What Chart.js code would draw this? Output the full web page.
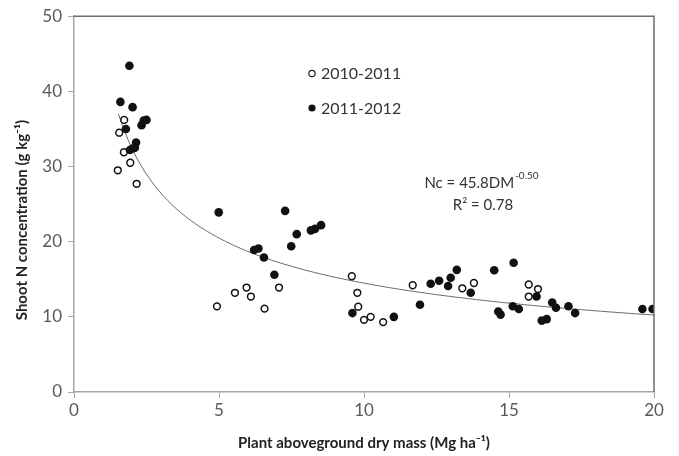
<!DOCTYPE html>
<html>
<head>
<meta charset="utf-8">
<script src="https://cdn.jsdelivr.net/npm/chart.js@4"></script>
<style>
  html, body { margin: 0; padding: 0; background: #fff; }
  #wrap { width: 679px; height: 456px; position: relative; }
</style>
</head>
<body>
<div id="wrap"><canvas id="nChart"></canvas></div>
<script>
// 2010-2011 season (open circles)
const dm2010 = [1.73, 1.56, 1.72, 1.94, 1.51, 2.16, 4.93, 5.55, 5.95, 6.1, 6.57, 7.07,
                9.58, 9.77, 9.8, 10.0, 10.23, 10.66, 11.68, 13.39, 13.79, 15.68, 15.68, 16.0];
const n2010  = [36.2, 34.5, 31.9, 30.5, 29.5, 27.7, 11.4, 13.2, 13.9, 12.7, 11.1, 13.9,
                15.4, 13.2, 11.35, 9.6, 10.0, 9.3, 14.2, 13.8, 14.5, 14.3, 12.7, 13.7];

// 2011-2012 season (filled circles)
const dm2011 = [1.91, 1.60, 2.02, 2.4, 2.5, 2.33, 1.79, 2.14, 2.02, 1.93, 2.1,
                4.99, 7.28, 7.68, 8.17, 8.31, 8.52, 7.49, 6.21, 6.36, 6.55, 6.91, 9.6,
                11.03, 11.93, 12.3, 12.59, 12.99, 12.9, 13.2, 13.68, 14.49, 14.63, 14.71,
                15.16, 15.13, 15.34, 15.95, 16.13, 16.3, 16.49, 16.62, 17.05, 17.28, 19.6, 19.95];
const n2011  = [43.4, 38.6, 37.9, 36.1, 36.2, 35.5, 35.0, 33.2, 32.4, 32.2, 32.5,
                23.9, 24.1, 21.0, 21.5, 21.7, 22.2, 19.4, 18.9, 19.1, 17.9, 15.6, 10.5,
                10.0, 11.6, 14.4, 14.8, 15.2, 14.1, 16.25, 13.2, 16.2, 10.7, 10.3,
                17.2, 11.4, 11.05, 12.7, 9.5, 9.7, 11.9, 11.2, 11.4, 10.5, 11.05, 11.05];

// fitted dilution curve Nc = a * DM^b, as printed on the chart
const fitA = 45.8;
const fitB = -0.5;
const fitFrom = 1.53;
const fitTo = 20;

const xTicks = [0, 5, 10, 15, 20];
const yTicks = [0, 10, 20, 30, 40, 50];

const textColor = '#595959';
const axisColor = '#a6a6a6';
const font = 'Lato, "Open Sans", sans-serif';

const toPts = (xs, ys) => xs.map((x, i) => ({ x: x, y: ys[i] }));

const curvePts = [];
for (let i = 0; i <= 120; i++) {
    const x = fitFrom + (fitTo - fitFrom) * i / 120;
    curvePts.push({ x: x, y: fitA * Math.pow(x, fitB) });
}

// legend, equation, y title and frame drawn over the plot
const extras = {
    id: 'extras',
    afterDraw(chart) {
        const c = chart.ctx;
        const a = chart.chartArea;
        c.save();
        // top and right frame
        c.strokeStyle = '#6e6e6e';
        c.lineWidth = 1.5;
        c.beginPath();
        c.moveTo(a.left, a.top);
        c.lineTo(a.right, a.top);
        c.lineTo(a.right, a.bottom);
        c.stroke();

        // y axis title
        c.save();
        c.translate(22, 220);
        c.rotate(-Math.PI / 2);
        c.font = 'bold 15px ' + font;
        c.fillStyle = '#222';
        c.textAlign = 'center';
        c.textBaseline = 'middle';
        c.fillText('Shoot N concentration (g kg\u207b\u00b9)', 0, 0);
        c.restore();

        // legend
        c.font = '16px ' + font;
        c.fillStyle = '#333';
        c.textBaseline = 'middle';
        c.textAlign = 'left';
        c.beginPath();
        c.arc(312, 73.5, 3.2, 0, Math.PI * 2);
        c.strokeStyle = '#222';
        c.lineWidth = 1.2;
        c.stroke();
        c.fillText('2010-2011', 321, 74);
        c.beginPath();
        c.arc(312, 108, 3.6, 0, Math.PI * 2);
        c.fillStyle = '#111';
        c.fill();
        c.fillStyle = '#333';
        c.fillText('2011-2012', 321, 108.5);

        // equation
        const base = 'Nc = 45.8DM';
        c.font = '15px ' + font;
        const w1 = c.measureText(base).width;
        c.font = '10px ' + font;
        const w2 = c.measureText('-0.50').width;
        const x0 = 481 - (w1 + w2) / 2;
        c.font = '15px ' + font;
        c.fillText(base, x0, 183);
        c.font = '10px ' + font;
        c.fillText('-0.50', x0 + w1 + 1, 176);
        c.font = '15px ' + font;
        c.textAlign = 'center';
        c.fillText('R\u00b2 = 0.78', 483, 205);
        c.restore();
    }
};

new Chart(document.getElementById('nChart'), {
    type: 'scatter',
    data: {
        datasets: [
            {
                label: '2011-2012',
                data: toPts(dm2011, n2011),
                backgroundColor: '#111',
                borderWidth: 0,
                pointRadius: 4.3,
                order: 1
            },
            {
                label: '2010-2011',
                data: toPts(dm2010, n2010),
                backgroundColor: '#fff',
                borderColor: '#111',
                borderWidth: 1.5,
                pointRadius: 3.4,
                order: 2
            },
            {
                label: 'fit',
                type: 'line',
                data: curvePts,
                borderColor: '#6b6b6b',
                borderWidth: 1,
                pointRadius: 0,
                fill: false,
                tension: 0,
                order: 3
            }
        ]
    },
    options: {
        responsive: true,
        maintainAspectRatio: false,
        animation: false,
        layout: { padding: { top: 14, right: 25, left: 0, bottom: 0 } },
        plugins: {
            legend: { display: false },
            tooltip: { enabled: false }
        },
        scales: {
            x: {
                type: 'linear',
                min: 0,
                max: 20,
                afterBuildTicks: s => { s.ticks = xTicks.map(v => ({ value: v })); },
                afterFit: s => { s.height = 64; },
                grid: {
                    drawOnChartArea: false,
                    tickLength: 6,
                    color: axisColor
                },
                border: { color: axisColor, width: 1.5 },
                ticks: {
                    color: textColor,
                    font: { family: font, size: 17 },
                    padding: 2
                },
                title: {
                    display: true,
                    text: 'Plant aboveground dry mass (Mg ha\u207b\u00b9)',
                    color: '#222',
                    font: { family: font, size: 15, weight: 'bold' },
                    padding: { top: 5 }
                }
            },
            y: {
                min: 0,
                max: 50,
                afterBuildTicks: s => { s.ticks = yTicks.map(v => ({ value: v })); },
                afterFit: s => { s.width = 74; },
                grid: {
                    drawOnChartArea: false,
                    tickLength: 6,
                    color: axisColor
                },
                border: { color: axisColor, width: 1.5 },
                ticks: {
                    color: textColor,
                    font: { family: font, size: 17 },
                    padding: 6
                },
                title: { display: false }
            }
        }
    },
    plugins: [extras]
});
</script>
</body>
</html>
